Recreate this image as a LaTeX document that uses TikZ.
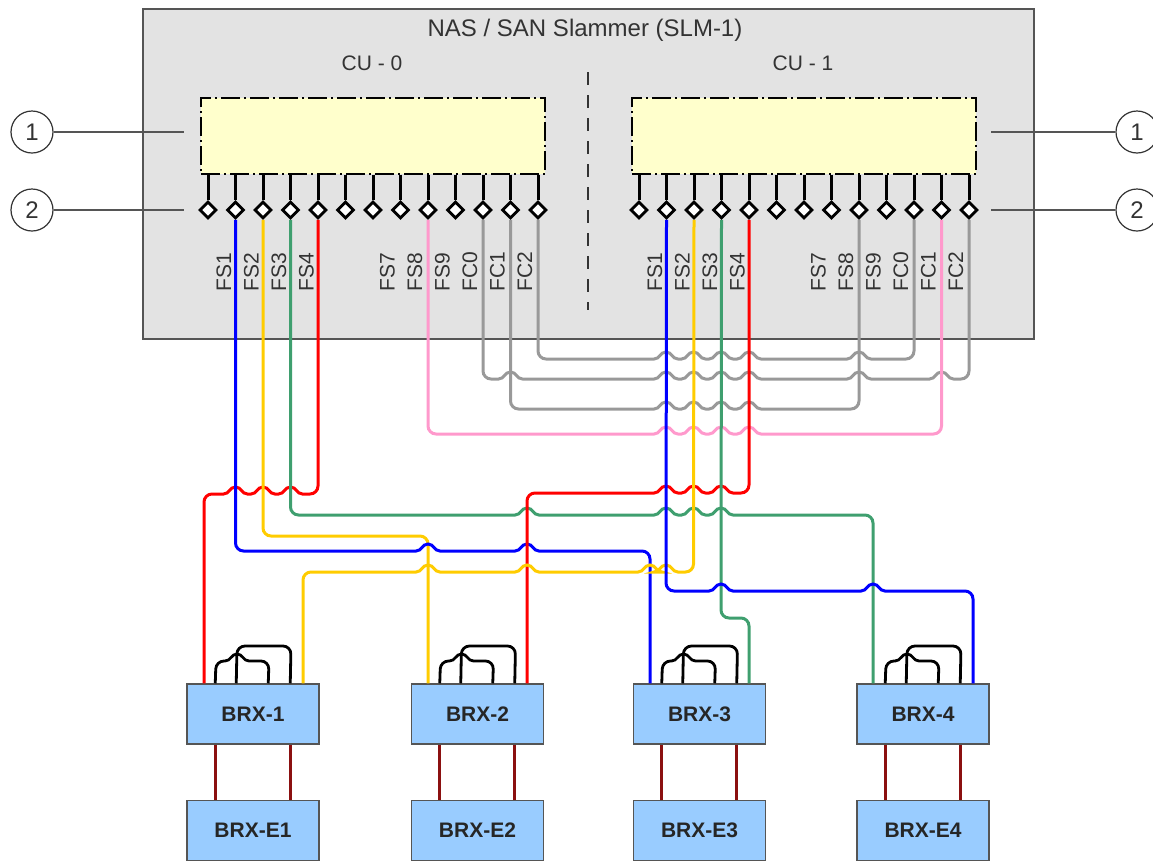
\documentclass[tikz,border=0pt]{standalone}
\usepackage{fontspec}
\usepackage{xcolor}
\usepackage{tikz}
\usetikzlibrary{arrows.meta, positioning, calc, shapes.geometric}
\setmainfont{Liberation Sans}
\definecolor{slmgray}{HTML}{E3E3E3}
\definecolor{cuyellow}{HTML}{FFFFCC}
\definecolor{brxblue}{HTML}{99CCFF}
\definecolor{edgegray}{HTML}{555555}
\definecolor{textgray}{HTML}{333333}
\definecolor{fsblue}{HTML}{0000FF}
\definecolor{fsyellow}{HTML}{FFCC00}
\definecolor{fsgreen}{HTML}{3F9F6F}
\definecolor{fsred}{HTML}{FF0000}
\definecolor{fspink}{HTML}{FF99CC}
\definecolor{fcgray}{HTML}{999999}
\definecolor{linkred}{HTML}{8B1010}
% hop over a vertical wire, going right / going left
\newcommand{\hopr}[2]{[sharp corners] -- ({#1-12},#2) .. controls ({#1-6},#2) and ({#1-6},{#2-7}) .. (#1,{#2-7}) .. controls ({#1+6},{#2-7}) and ({#1+6},#2) .. ({#1+12},#2) [rounded corners=8pt]}
\newcommand{\hopl}[2]{[sharp corners] -- ({#1+12},#2) .. controls ({#1+6},#2) and ({#1+6},{#2-7}) .. (#1,{#2-7}) .. controls ({#1-6},{#2-7}) and ({#1-6},#2) .. ({#1-12},#2) [rounded corners=8pt]}
\tikzset{
    wire/.style={line width=3pt, rounded corners=8pt},
    loopwire/.style={line width=2.8pt, black, rounded corners=8pt},
    link/.style={line width=3pt, linkred},
    stub/.style={line width=3pt, black},
    port/.style={diamond, draw=black, fill=white, line width=2.8pt, minimum size=17pt, inner sep=0pt},
    cubox/.style={draw=black, fill=cuyellow, line width=1.2pt, dash pattern=on 19pt off 4pt on 2pt off 4pt, minimum width=344pt, minimum height=76pt, inner sep=0pt},
    brx/.style={draw=edgegray, fill=brxblue, line width=1.5pt, minimum width=132pt, minimum height=60pt, inner sep=0pt, font=\fontsize{21}{24}\selectfont\bfseries, text=black!85},
    callout/.style={circle, draw=textgray, fill=white, line width=1.2pt, minimum size=42pt, inner sep=0pt, font=\fontsize{24}{28}\selectfont, text=textgray},
    leader/.style={line width=1.3pt, edgegray},
    lab/.style={font=\fontsize{21}{24}\selectfont, text=textgray, inner sep=0pt},
    plab/.style={lab, rotate=90, anchor=west}
}
\begin{document}
\begin{tikzpicture}[x=1pt, y=-1pt]
    \useasboundingbox (0,0) rectangle (1153,860);

    % ── SLAMMER ───────────────────────────────────────────────────────
    \node[draw=edgegray, fill=slmgray, line width=1.5pt, minimum width=891pt, minimum height=330pt, inner sep=0pt] (slm) at (588.5,174) {};
    \node[lab, font=\fontsize{24}{28}\selectfont] (title) at (585,30) {NAS / SAN Slammer (SLM-1)};
    \node[lab] (cu0lab) at (372,63) {CU - 0};
    \node[lab] (cu1lab) at (803,63) {CU - 1};
    \node[cubox] (cu0) at (373,136) {};
    \node[cubox] (cu1) at (804,136) {};
    \coordinate (divtop) at (588,72);
    \coordinate (divbot) at (588,310);
    \draw[line width=1.8pt, textgray, dash pattern=on 13pt off 10pt] (divtop) -- (divbot);

    % ── PORTS ─────────────────────────────────────────────────────────
    \foreach \i in {0,...,12}{
        \pgfmathsetmacro{\px}{208+27.5*\i}
        \node[port] (L\i) at (\px,210) {};
        \draw[stub] (L\i |- cu0.south) -- (L\i.north);
        \pgfmathsetmacro{\qx}{639+27.5*\i}
        \node[port] (R\i) at (\qx,210) {};
        \draw[stub] (R\i |- cu1.south) -- (R\i.north);
    }
    \foreach \i/\t in {1/FS1,2/FS2,3/FS3,4/FS4,7/FS7,8/FS8,9/FS9,10/FC0,11/FC1,12/FC2}{
        \pgfmathsetmacro{\px}{208+27.5*\i-11.5-1.5*(\i>6)}
        \node[plab] (Llab\i) at (\px,292) {\t};
        \pgfmathsetmacro{\qx}{639+27.5*\i-11.5-1.5*(\i>6)}
        \node[plab] (Rlab\i) at (\qx,292) {\t};
    }

    % ── CALLOUTS ──────────────────────────────────────────────────────
    \node[callout] (a1) at (32,132) {1};
    \node[callout] (a2) at (32,210) {2};
    \node[callout] (b1c) at (1137,132) {1};
    \node[callout] (b2c) at (1137,210) {2};
    \coordinate (a1end) at (184,132);
    \coordinate (a2end) at (184,210);
    \coordinate (b1end) at (991,132);
    \coordinate (b2end) at (991,210);
    \draw[leader] (a1) -- (a1end);
    \draw[leader] (a2) -- (a2end);
    \draw[leader] (b1c) -- (b1end);
    \draw[leader] (b2c) -- (b2end);

    % ── BRICKS ────────────────────────────────────────────────────────
    \foreach \n/\x in {1/253,2/477.5,3/699.5,4/923}{
        \node[brx] (b\n) at (\x,714) {BRX-\n};
        \node[brx] (e\n) at (\x,830.5) {BRX-E\n};
        \draw[link] ($(b\n.south west)+(29,0)$) -- ($(e\n.north west)+(29,0)$);
        \draw[link] ($(b\n.south west)+(104,0)$) -- ($(e\n.north west)+(104,0)$);
        % black loops on top of each brick
        \pgfmathsetmacro{\xa}{\x-66+29}
        \pgfmathsetmacro{\xb}{\x-66+50}
        \pgfmathsetmacro{\xc}{\x-66+82}
        \pgfmathsetmacro{\xd}{\x-66+104}
        \draw[loopwire] ($(b\n.north west)+(50,0)$) -- (\xb,646) -- (\xd,646) -- ($(b\n.north west)+(104,0)$);
        \draw[loopwire] ($(b\n.north west)+(29,0)$) -- (\xa,661) \hopr{\xb}{661} -- (\xc,661) -- ($(b\n.north west)+(82,0)$);
    }

    % ── GRAY AND PINK WIRES ───────────────────────────────────────────
    \draw[wire, fcgray] (L12.south) -- (538,359) \hopr{666}{359} \hopr{693.5}{359} \hopr{721}{359} \hopr{749}{359} \hopr{859}{359} -- (914,359) -- (R10.south);
    \draw[wire, fcgray] (L10.south) -- (483,379) \hopr{510.5}{379} \hopr{666}{379} \hopr{693.5}{379} \hopr{721}{379} \hopr{749}{379} \hopr{859}{379} \hopr{941.5}{379} -- (969,379) -- (R12.south);
    \draw[wire, fcgray] (L11.south) -- (510.5,409) \hopr{666}{409} \hopr{693.5}{409} \hopr{721}{409} \hopr{749}{409} -- (859,409) -- (R8.south);
    \draw[wire, fspink] (L8.south) -- (428,434) \hopr{666}{434} \hopr{693.5}{434} \hopr{721}{434} \hopr{749}{434} -- (941.5,434) -- (R11.south);

    % ── LEFT CU WIRES ─────────────────────────────────────────────────
    \draw[wire, fsred] (L4.south) -- (318,494) \hopl{290.5}{494} \hopl{263}{494} \hopl{235.5}{494} -- (204,494) -- (204,0 |- b1.north);
    \draw[wire, fsgreen] (L3.south) -- (290.5,515) \hopr{527}{515} \hopr{666}{515} \hopr{693.5}{515} \hopr{721}{515} -- (873,515) -- (873,0 |- b4.north);
    \draw[wire, fsyellow] (L2.south) -- (263,536) -- (428,536) -- (428,0 |- b2.north);
    \draw[wire, fsblue] (L1.south) -- (235.5,551) \hopr{428}{551} \hopr{527}{551} -- (650,551) -- (650,0 |- b3.north);

    % ── RIGHT CU WIRES ────────────────────────────────────────────────
    \draw[wire, fsred] (R4.south) -- (749,493) \hopl{721}{493} \hopl{693.5}{493} \hopl{666}{493} -- (527,493) -- (527,0 |- b2.north);
    \draw[wire, fsyellow] (R2.south) -- (693.5,572) \hopl{666}{572} \hopl{650}{572} \hopl{527}{572} \hopl{428}{572} -- (303,572) -- (303,0 |- b1.north);
    \draw[wire, fsgreen] (R3.south) -- (721,618) -- (749,618) -- (749,0 |- b3.north);
    \draw[wire, fsblue] (R1.south) -- (666,591) \hopr{721}{591} \hopr{873}{591} -- (973,591) -- (973,0 |- b4.north);
\end{tikzpicture}
\end{document}
